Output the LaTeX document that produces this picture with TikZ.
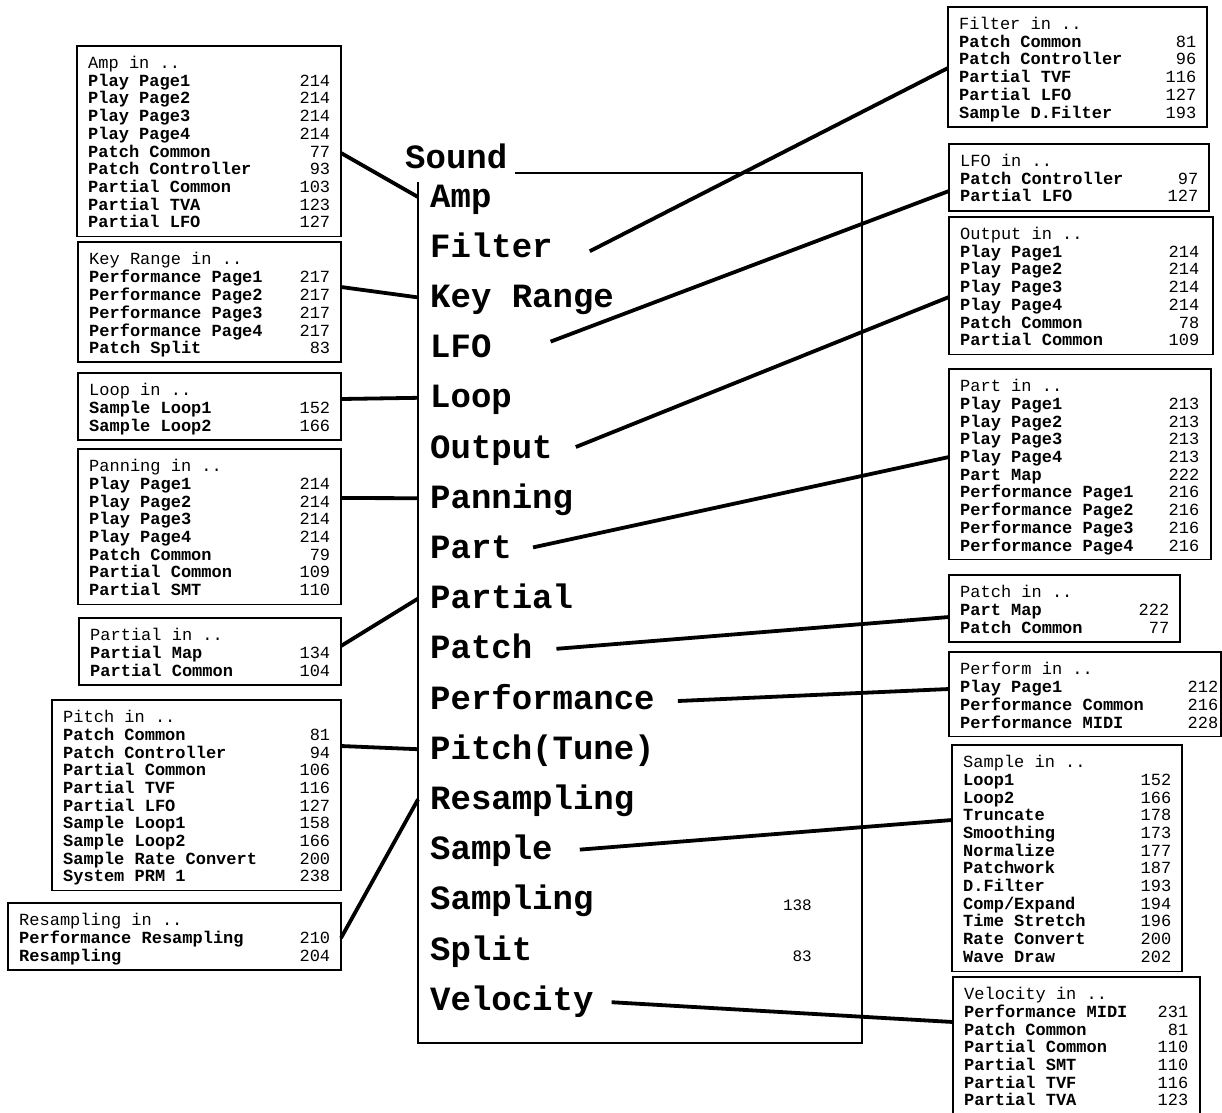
\documentclass[tikz,border=0pt]{standalone}
\usepackage{fontspec}
\setmainfont{Liberation Mono}
\usetikzlibrary{calc}
\newcommand\brow[2]{\textbf{#1} & #2 \\}
\newcommand\bhead[1]{\multicolumn{2}{@{}l@{}}{#1}\\}
% #1 name, #2 x, #3 y(top), #4 width, #5 text width, #6 rows, #7 content
\newcommand\infobox[7]{%
  \node[ibox, minimum width=#4, minimum height={31.5+(#6-1)*17.7}, anchor=north west] (#1) at (#2,#3) {};
  \node[itext, anchor=north west] (#1-t) at ($(#1.north west)+(11,10)$)
    {\begin{tabular*}{#5pt}{@{}l@{\extracolsep{\fill}}r@{}}#7\end{tabular*}};
}
\begin{document}
\begin{tikzpicture}[x=1pt,y=-1pt,
  ibox/.style={draw, line width=1.3pt, inner sep=0pt, outer sep=0pt},
  itext/.style={inner sep=0pt, font=\fontsize{17}{17.7}\selectfont},
  lbl/.style={anchor=west, inner xsep=12pt, inner ysep=0pt, text height=20pt, text depth=0pt,
    font=\fontsize{34}{34}\selectfont\bfseries},
  pnum/.style={anchor=east, inner sep=0pt, text height=10pt, text depth=0pt, font=\fontsize{16}{16}\selectfont},
  conn/.style={line width=3.8pt},
  cbox/.style={line width=1.2pt}]
\useasboundingbox (0,0) rectangle (1222,1112);
\clip (0,0) rectangle (1222,1112);
\fill[white] (0,0) rectangle (1222,1112);

% central frame
\node[anchor=west, inner sep=0pt, text height=20pt, text depth=0pt, font=\fontsize{34}{34}\selectfont\bfseries] (sound) at (405,158) {Sound};
\draw[cbox] (515,173) -- (862,173) -- (862,1043) -- (418,1043) -- (418,182);

% central labels
\foreach \nm/\tx [count=\i from 0] in {lamp/Amp, lfilter/Filter, lkey/Key Range, llfo/LFO, lloop/Loop,
  loutput/Output, lpan/Panning, lpart/Part, lpartial/Partial, lpatch/Patch, lperf/Performance,
  lpitch/Pitch(Tune), lresamp/Resampling, lsample/Sample, lsampling/Sampling, lsplit/Split, lvel/Velocity}
  \node[lbl] (\nm) at (418,197+50.2*\i) {\tx};
\node[pnum] (n138) at (812,905) {138};
\node[pnum] (n83) at (812,956) {83};

% left boxes
\infobox{ampbox}{77}{46}{264}{242}{10}{\bhead{Amp in ..}
 \brow{Play Page1}{214}\brow{Play Page2}{214}\brow{Play Page3}{214}\brow{Play Page4}{214}
 \brow{Patch Common}{77}\brow{Patch Controller}{93}\brow{Partial Common}{103}
 \brow{Partial TVA}{123}\brow{Partial LFO}{127}}
\infobox{keybox}{78}{242}{263}{241}{6}{\bhead{Key Range in ..}
 \brow{Performance Page1}{217}\brow{Performance Page2}{217}\brow{Performance Page3}{217}
 \brow{Performance Page4}{217}\brow{Patch Split}{83}}
\infobox{loopbox}{78}{373}{263}{241}{3}{\bhead{Loop in ..}
 \brow{Sample Loop1}{152}\brow{Sample Loop2}{166}}
\infobox{panbox}{78}{449}{263}{241}{8}{\bhead{Panning in ..}
 \brow{Play Page1}{214}\brow{Play Page2}{214}\brow{Play Page3}{214}\brow{Play Page4}{214}
 \brow{Patch Common}{79}\brow{Partial Common}{109}\brow{Partial SMT}{110}}
\infobox{partialbox}{79}{618}{262}{240}{3}{\bhead{Partial in ..}
 \brow{Partial Map}{134}\brow{Partial Common}{104}}
\infobox{pitchbox}{52}{700}{289}{267}{10}{\bhead{Pitch in ..}
 \brow{Patch Common}{81}\brow{Patch Controller}{94}\brow{Partial Common}{106}
 \brow{Partial TVF}{116}\brow{Partial LFO}{127}\brow{Sample Loop1}{158}
 \brow{Sample Loop2}{166}\brow{Sample Rate Convert}{200}\brow{System PRM 1}{238}}
\infobox{resbox}{8}{903}{333}{311}{3}{\bhead{Resampling in ..}
 \brow{Performance Resampling}{210}\brow{Resampling}{204}}

% right boxes
\infobox{filterbox}{948}{7}{259}{237}{6}{\bhead{Filter in ..}
 \brow{Patch Common}{81}\brow{Patch Controller}{96}\brow{Partial TVF}{116}
 \brow{Partial LFO}{127}\brow{Sample D.Filter}{193}}
\infobox{lfobox}{949}{144}{260}{238}{3}{\bhead{LFO in ..}
 \brow{Patch Controller}{97}\brow{Partial LFO}{127}}
\infobox{outbox}{949}{217}{264}{239}{7}{\bhead{Output in ..}
 \brow{Play Page1}{214}\brow{Play Page2}{214}\brow{Play Page3}{214}\brow{Play Page4}{214}
 \brow{Patch Common}{78}\brow{Partial Common}{109}}
\infobox{partbox}{949}{369}{262}{239}{10}{\bhead{Part in ..}
 \brow{Play Page1}{213}\brow{Play Page2}{213}\brow{Play Page3}{213}\brow{Play Page4}{213}
 \brow{Part Map}{222}\brow{Performance Page1}{216}\brow{Performance Page2}{216}
 \brow{Performance Page3}{216}\brow{Performance Page4}{216}}
\infobox{patchbox}{949}{575}{231}{209}{3}{\bhead{Patch in ..}
 \brow{Part Map}{222}\brow{Patch Common}{77}}
\infobox{perfbox}{949}{652}{272}{258}{4}{\bhead{Perform in ..}
 \brow{Play Page1}{212}\brow{Performance Common}{216}\brow{Performance MIDI}{228}}
\infobox{samplebox}{952}{745}{230}{208}{12}{\bhead{Sample in ..}
 \brow{Loop1}{152}\brow{Loop2}{166}\brow{Truncate}{178}\brow{Smoothing}{173}
 \brow{Normalize}{177}\brow{Patchwork}{187}\brow{D.Filter}{193}\brow{Comp/Expand}{194}
 \brow{Time Stretch}{196}\brow{Rate Convert}{200}\brow{Wave Draw}{202}}
\infobox{velbox}{953}{977}{247}{224}{7}{\bhead{Velocity in ..}
 \brow{Performance MIDI}{231}\brow{Patch Common}{81}\brow{Partial Common}{110}
 \brow{Partial SMT}{110}\brow{Partial TVF}{116}\brow{Partial TVA}{123}}

% connectors left
\draw[conn] ($(ampbox.north east)+(0,107)$) -- (lamp.west);
\draw[conn] ($(keybox.north east)+(0,45)$) -- (lkey.west);
\draw[conn] ($(loopbox.north east)+(0,26)$) -- (lloop.west);
\draw[conn] ($(panbox.north east)+(0,49)$) -- (lpan.west);
\draw[conn] ($(partialbox.north east)+(0,28)$) -- (lpartial.west);
\draw[conn] ($(pitchbox.north east)+(0,46)$) -- (lpitch.west);
\draw[conn] ($(resbox.north east)+(0,35)$) -- (lresamp.west);
% connectors right
\draw[conn] ($(lfilter.east)+(25,4)$) -- ($(filterbox.north west)+(0,61)$);
\draw[conn] ($(llfo.east)+(47,-6)$) -- ($(lfobox.north west)+(0,47)$);
\draw[conn] ($(loutput.east)+(11,-1)$) -- ($(outbox.north west)+(0,80)$);
\draw[conn] ($(lpart.east)+(9,-1)$) -- ($(partbox.north west)+(0,88)$);
\draw[conn] ($(lpatch.east)+(12,0)$) -- ($(patchbox.north west)+(0,42)$);
\draw[conn] ($(lperf.east)+(11,2)$) -- ($(perfbox.north west)+(0,37)$);
\draw[conn] ($(lsample.east)+(15,0)$) -- ($(samplebox.north west)+(0,75)$);
\draw[conn] ($(lvel.east)+(6,2)$) -- ($(velbox.north west)+(0,45)$);
\end{tikzpicture}
\end{document}
